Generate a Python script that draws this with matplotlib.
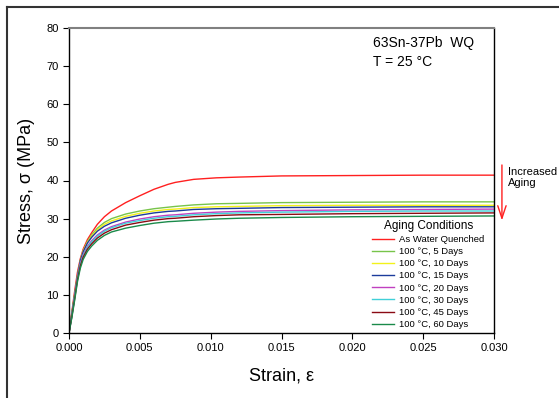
import matplotlib
matplotlib.use("Agg")
import matplotlib.pyplot as plt
from matplotlib.lines import Line2D

plt.rcParams['font.family'] = ['Liberation Sans', 'DejaVu Sans']

strain = [0, 0.0002, 0.0004, 0.0006, 0.0008, 0.001, 0.0013, 0.0016, 0.002, 0.0025,
          0.003, 0.004, 0.005, 0.006, 0.007, 0.0075, 0.0088, 0.0104, 0.012, 0.015,
          0.020, 0.025, 0.030]

wq  = [0, 5.5, 11, 16, 19.5, 22.0, 24.5, 26.3, 28.5, 30.5, 32.0, 34.2, 36.0, 37.7, 39.0, 39.5, 40.3, 40.7, 40.9, 41.2, 41.3, 41.4, 41.4]
d5  = [0, 5, 10, 15, 19, 21.5, 24.0, 25.7, 27.5, 29.0, 30.0, 31.2, 32.0, 32.6, 33.0, 33.2, 33.6, 33.9, 34.0, 34.2, 34.3, 34.4, 34.4]
d10 = [0, 5, 10, 15, 19, 21.5, 23.8, 25.4, 27.1, 28.5, 29.4, 30.6, 31.4, 32.0, 32.4, 32.5, 32.9, 33.1, 33.2, 33.4, 33.5, 33.5, 33.5]
d15 = [0, 5, 10, 15, 19, 21.3, 23.6, 25.1, 26.7, 28.0, 28.9, 30.1, 30.9, 31.5, 31.9, 32.0, 32.4, 32.6, 32.7, 32.9, 33.0, 33.1, 33.1]
d20 = [0, 4.5, 9.5, 14.5, 18.3, 20.6, 22.8, 24.2, 25.7, 27.0, 27.9, 29.1, 29.9, 30.5, 30.9, 31.0, 31.4, 31.7, 31.9, 32.1, 32.3, 32.4, 32.5]
d30 = [0, 4.5, 9.5, 14.3, 18.0, 20.3, 22.5, 23.9, 25.4, 26.7, 27.6, 28.8, 29.5, 30.1, 30.5, 30.6, 31.0, 31.3, 31.5, 31.7, 31.9, 32.0, 32.0]
d45 = [0, 4.3, 9.0, 14.0, 17.6, 19.9, 22.0, 23.4, 24.9, 26.2, 27.1, 28.3, 29.0, 29.6, 30.0, 30.1, 30.5, 30.8, 31.0, 31.1, 31.3, 31.4, 31.5]
d60 = [0, 4.0, 8.6, 13.5, 17.0, 19.3, 21.4, 22.8, 24.3, 25.6, 26.5, 27.5, 28.2, 28.8, 29.2, 29.3, 29.6, 29.9, 30.1, 30.3, 30.5, 30.6, 30.7]

labels = ["As Water Quenched",
          "100 °C, 5 Days",
          "100 °C, 10 Days",
          "100 °C, 15 Days",
          "100 °C, 20 Days",
          "100 °C, 30 Days",
          "100 °C, 45 Days",
          "100 °C, 60 Days"]
series = [wq, d5, d10, d15, d20, d30, d45, d60]
colors = ['#ff2020', '#77c44a', '#f2f21a', '#1c3c9c', '#c040c0', '#40d0d8', '#8a0a14', '#1a8a4a']

xticks = [0.000, 0.005, 0.010, 0.015, 0.020, 0.025, 0.030]
yticks = [0, 10, 20, 30, 40, 50, 60, 70, 80]

W, H = 559, 398
fig = plt.figure(figsize=(W/100, H/100), dpi=100)
ax = fig.add_axes([69/W, 1-333/H, (494-69)/W, (333-28)/H])

for s, c, l in zip(series, colors, labels):
    ax.plot(strain, s, color=c, lw=1.0, label=l)

ax.set_xlim(0, 0.030)
ax.set_ylim(0, 80)
ax.set_xticks(xticks)
ax.set_xticklabels([f"{v:.3f}" for v in xticks])
ax.set_yticks(yticks)
ax.tick_params(axis='both', labelsize=8, direction='out', length=4, width=0.8, colors='black')
for sp in ['left', 'bottom', 'right']:
    ax.spines[sp].set_color('black')
    ax.spines[sp].set_linewidth(1.0)
ax.spines['top'].set_color('#808080')
ax.spines['top'].set_linewidth(1.5)

ax.set_xlabel("Strain, ε", fontsize=13, labelpad=10)
ax.set_ylabel("Stress, σ (MPa)", fontsize=13, labelpad=8)

ax.text((373-69)/425, (333-36)/305, "63Sn-37Pb  WQ", transform=ax.transAxes, fontsize=10, va='top', ha='left')
ax.text((373-69)/425, (333-55)/305, "T = 25 °C", transform=ax.transAxes, fontsize=10, va='top', ha='left')

leg = ax.legend(loc='upper left', bbox_to_anchor=((372-69)/425, (333-220)/305), frameon=False, fontsize=6.8,
                title="Aging Conditions", title_fontsize=8.5, handlelength=2.35, handletextpad=0.55,
                labelspacing=0.33, borderpad=0, borderaxespad=0)

# Increased aging arrow (outside right)
ax.annotate("", xy=(0.03056, 28.8), xytext=(0.03056, 44.8), xycoords='data',
            annotation_clip=False,
            arrowprops=dict(arrowstyle='->,head_length=0.9,head_width=0.3', color='#ff2020', lw=1.0))
ax.text(1.033, (333-177.5)/305, "Increased\nAging", transform=ax.transAxes, fontsize=8, va='center', ha='left',
        linespacing=1.1)

# outer frame (left and top edges)
fig.add_artist(Line2D([7/W, 7/W], [0, 1-7/H], transform=fig.transFigure, color='#333333', lw=1.5))
fig.add_artist(Line2D([7/W, 1], [1-7/H, 1-7/H], transform=fig.transFigure, color='#333333', lw=1.5))

fig.savefig("out.png", dpi=100)
